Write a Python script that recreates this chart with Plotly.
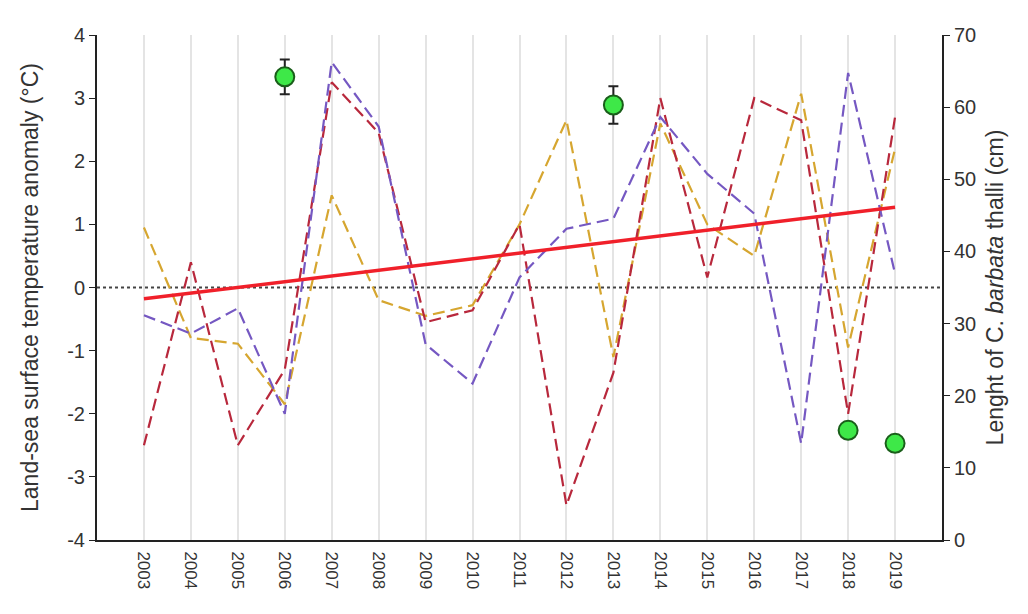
import plotly.graph_objects as go

years = list(range(2003, 2020))
red_series = [-2.5, 0.4, -2.5, -1.3, 3.25, 2.45, -0.55, -0.36, 1.0, -3.45, -1.35, 3.0, 0.16, 3.0, 2.65, -2.0, 2.7]
purple_series = [-0.44, -0.73, -0.33, -2.0, 3.57, 2.55, -0.9, -1.52, 0.16, 0.93, 1.09, 2.7, 1.8, 1.17, -2.47, 3.4, 0.22]
gold_series = [0.95, -0.8, -0.89, -1.85, 1.46, -0.2, -0.45, -0.28, 1.0, 2.65, -1.1, 2.6, 1.0, 0.5, 3.07, -0.95, 2.2]
trend_years = [2003, 2019]
trend_values = [-0.18, 1.27]
length_years = [2006, 2013, 2018, 2019]
length_values = [64.2, 60.3, 15.2, 13.4]
length_err = [2.4, 2.6, 1.0, 1.0]
left_ticks = [-4, -3, -2, -1, 0, 1, 2, 3, 4]
left_ticktext = ["-4", "-3", "-2", "-1", "0", "1", "2", "3", "4"]
right_ticks = [0, 10, 20, 30, 40, 50, 60, 70]

fig = go.Figure()

fig.add_trace(go.Scatter(x=[2002, 2020], y=[0, 0], mode="lines",
                         line=dict(color="#444444", width=2, dash="dot"),
                         showlegend=False, hoverinfo="skip"))
fig.add_trace(go.Scatter(x=years, y=gold_series, mode="lines",
                         line=dict(color="#d6a630", width=2.2, dash="12px,6px"), showlegend=False))
fig.add_trace(go.Scatter(x=years, y=red_series, mode="lines",
                         line=dict(color="#b8283c", width=2.2, dash="12px,6px"), showlegend=False))
fig.add_trace(go.Scatter(x=years, y=purple_series, mode="lines",
                         line=dict(color="#7558c2", width=2.2, dash="12px,6px"), showlegend=False))
fig.add_trace(go.Scatter(x=trend_years, y=trend_values, mode="lines",
                         line=dict(color="#f0202a", width=3.5), showlegend=False))
fig.add_trace(go.Scatter(x=length_years, y=length_values, mode="markers", yaxis="y2",
                         marker=dict(size=19, color="#3ee848", line=dict(color="#1a5e1a", width=2)),
                         error_y=dict(type="data", array=length_err, color="#222222", thickness=2, width=5),
                         showlegend=False))

fig.update_layout(
    width=1028, height=614,
    margin=dict(l=89, r=94, t=27, b=82),
    paper_bgcolor="white", plot_bgcolor="white",
    font=dict(family="Liberation Sans, Arial, sans-serif", size=16, color="#333333"),
    xaxis=dict(range=[2002, 2020], tickvals=years, ticktext=[str(y) for y in years],
               tickangle=90, showgrid=True, gridcolor="#e4e4e4", gridwidth=1.5,
               showline=True, linecolor="#222222", linewidth=2, zeroline=False,
               ticks="", tickfont=dict(size=17), ticklabelstandoff=6, automargin=False),
    yaxis=dict(range=[-4, 4], tickvals=left_ticks, ticktext=left_ticktext, showgrid=False, zeroline=False,
               showline=True, linecolor="#222222", linewidth=2,
               ticks="outside", ticklen=6, tickcolor="#222222", tickfont=dict(size=20),
               automargin=False,
               title=dict(text="Land-sea surface temperature anomaly (°C)", font=dict(size=23), standoff=22)),
    yaxis2=dict(range=[0, 70], tickvals=right_ticks, overlaying="y", side="right", showgrid=False, zeroline=False,
                showline=True, linecolor="#222222", linewidth=2,
                ticks="outside", ticklen=6, tickcolor="#222222", tickfont=dict(size=20),
                automargin=False,
                title=dict(text="Lenght of C. <i>barbata</i> thalli (cm)", font=dict(size=23), standoff=12)),
)

fig.write_html("out.html")
